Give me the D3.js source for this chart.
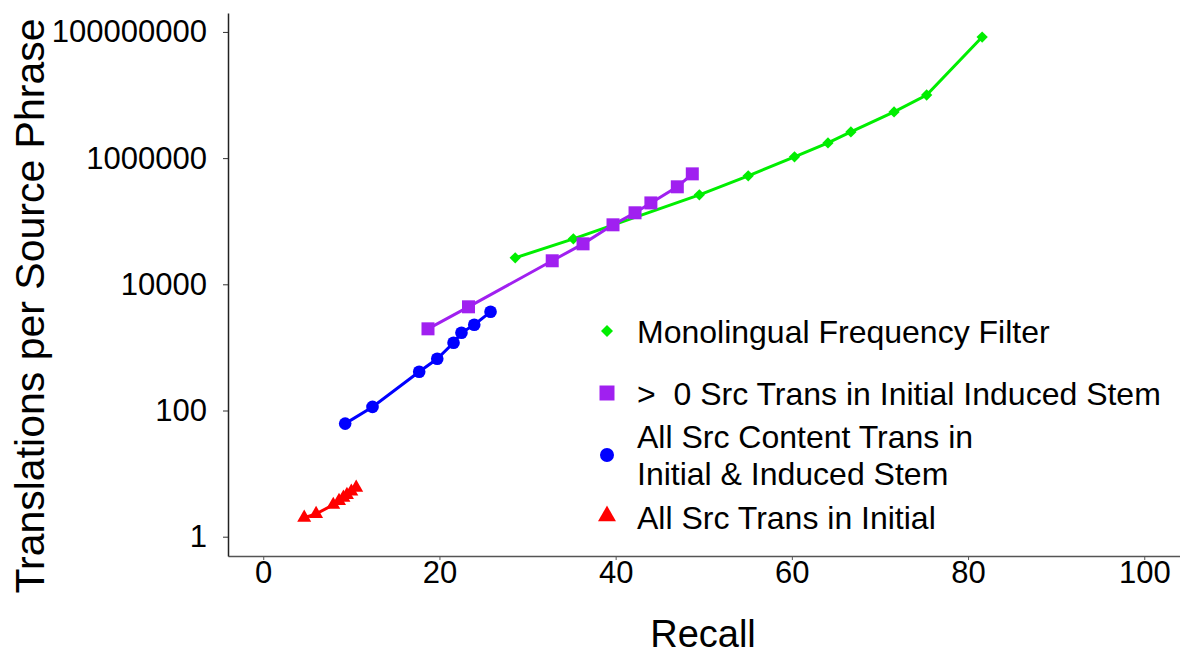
<!DOCTYPE html>
<html>
<head>
<meta charset="utf-8">
<script src="https://cdn.jsdelivr.net/npm/d3@7"></script>
<style>
  body { margin: 0; background: #fff; }
  text { font-family: "Liberation Sans", Arial, Helvetica, sans-serif; fill: #000; }
</style>
</head>
<body>
<div id="chart"></div>
<script>
const width = 1180;
const height = 655;

// recall (x) and translations per source phrase (y)
const monoRecall = [28.6, 35.2, 49.5, 55.05, 60.3, 64.1, 66.7, 71.6, 75.3, 81.6];
const monoTrans = [26300, 52500, 262000, 524000, 1050000, 1740000, 2600000, 5400000, 10000000, 83000000];

const gtRecall = [18.7, 23.3, 32.8, 36.3, 39.7, 42.2, 44.0, 47.0, 48.7];
const gtTrans = [1970, 4400, 23600, 43800, 87700, 136000, 195000, 351000, 563000];

const contentRecall = [9.3, 12.4, 17.7, 19.75, 21.6, 22.5, 23.95, 25.8];
const contentTrans = [62, 114, 411, 661, 1183, 1706, 2282, 3666];

const initRecall = [4.65, 6.0, 7.95, 8.6, 9.1, 9.5, 10.0, 10.55];
const initTrans = [2.0, 2.3, 3.2, 3.7, 4.15, 4.6, 5.2, 6.0];

const xTicks = [0, 20, 40, 60, 80, 100];
const yTicks = [1, 100, 10000, 1000000, 100000000];

const series = [
  {name: 'Monolingual Frequency Filter', x: monoRecall, y: monoTrans, color: '#00ee00', shape: 'diamond'},
  {name: '>  0 Src Trans in Initial Induced Stem', x: gtRecall, y: gtTrans, color: '#a020f0', shape: 'square'},
  {name: 'All Src Content Trans in|Initial & Induced Stem', x: contentRecall, y: contentTrans, color: '#0000ff', shape: 'circle'},
  {name: 'All Src Trans in Initial', x: initRecall, y: initTrans, color: '#ff0000', shape: 'triangle'}
];

const svg = d3.select('#chart')
  .append('svg')
  .attr('width', width)
  .attr('height', height);

// 1. scales
const xScale = d3.scaleLinear().domain([-4, 104]).range([228, 1179.5]);
const yScale = d3.scaleLog().domain([Math.pow(10, -0.306), Math.pow(10, 8.3)]).range([556, 13]);

// 2. axes
const xAxis = svg.append('g')
  .attr('transform', 'translate(0,556)')
  .call(d3.axisBottom(xScale).tickValues(xTicks).tickSize(4).tickPadding(1).tickSizeOuter(0));
xAxis.select('.domain').attr('stroke', '#555').attr('stroke-width', 1.5);
xAxis.selectAll('.tick line').attr('stroke', '#555');
xAxis.selectAll('.tick text').attr('font-size', 31).attr('font-family', '"Liberation Sans", Arial, sans-serif');

const yAxis = svg.append('g')
  .attr('transform', 'translate(228,0)')
  .call(d3.axisLeft(yScale).tickValues(yTicks).tickFormat(d3.format('d')).tickSize(5).tickPadding(16).tickSizeOuter(0));
yAxis.select('.domain').attr('stroke', '#222').attr('stroke-width', 1.5);
yAxis.selectAll('.tick line').attr('stroke', '#333');
yAxis.selectAll('.tick text').attr('font-size', 31).attr('font-family', '"Liberation Sans", Arial, sans-serif');

// 3. axis titles
svg.append('text')
  .attr('x', 703)
  .attr('y', 647)
  .attr('text-anchor', 'middle')
  .attr('font-size', 38)
  .text('Recall');

svg.append('text')
  .attr('transform', 'translate(44,306) rotate(-90)')
  .attr('text-anchor', 'middle')
  .attr('font-size', 41)
  .text('Translations per Source Phrase');

// 4. lines and markers
const symbolFor = (shape, big) => {
  if (shape === 'square') return d3.symbol().type(d3.symbolSquare).size(big ? 225 : 169)();
  if (shape === 'circle') return d3.symbol().type(d3.symbolCircle).size(big ? 154 : 125)();
  if (shape === 'triangle') return d3.symbol().type(d3.symbolTriangle).size(big ? 140 : 85)();
  return d3.symbol().type(d3.symbolSquare).size(big ? 72 : 64)();
};

const line = d3.line()
  .x(d => xScale(d[0]))
  .y(d => yScale(d[1]));

series.forEach(s => {
  const pts = s.x.map((v, i) => [v, s.y[i]]);
  svg.append('path')
    .datum(pts)
    .attr('d', line)
    .attr('fill', 'none')
    .attr('stroke', s.color)
    .attr('stroke-width', 3);

  svg.selectAll(null)
    .data(pts)
    .enter()
    .append('path')
    .attr('d', symbolFor(s.shape, false))
    .attr('transform', d => `translate(${xScale(d[0])},${yScale(d[1])})` + (s.shape === 'diamond' ? ' rotate(45)' : ''))
    .attr('fill', s.color);
});

// 5. legend
const legendRows = [
  {markY: 331, lines: [332]},
  {markY: 393, lines: [394]},
  {markY: 455, lines: [437, 474]},
  {markY: 516, lines: [518]}
];

series.forEach((s, i) => {
  const row = legendRows[i];
  svg.append('path')
    .attr('d', symbolFor(s.shape, true))
    .attr('transform', `translate(607,${row.markY})` + (s.shape === 'diamond' ? ' rotate(45)' : ''))
    .attr('fill', s.color);
  s.name.split('|').forEach((t, j) => {
    svg.append('text')
      .attr('x', 637)
      .attr('y', row.lines[j])
      .attr('dy', '0.35em')
      .attr('font-size', 32)
      .style('white-space', 'pre')
      .text(t);
  });
});
</script>
</body>
</html>
